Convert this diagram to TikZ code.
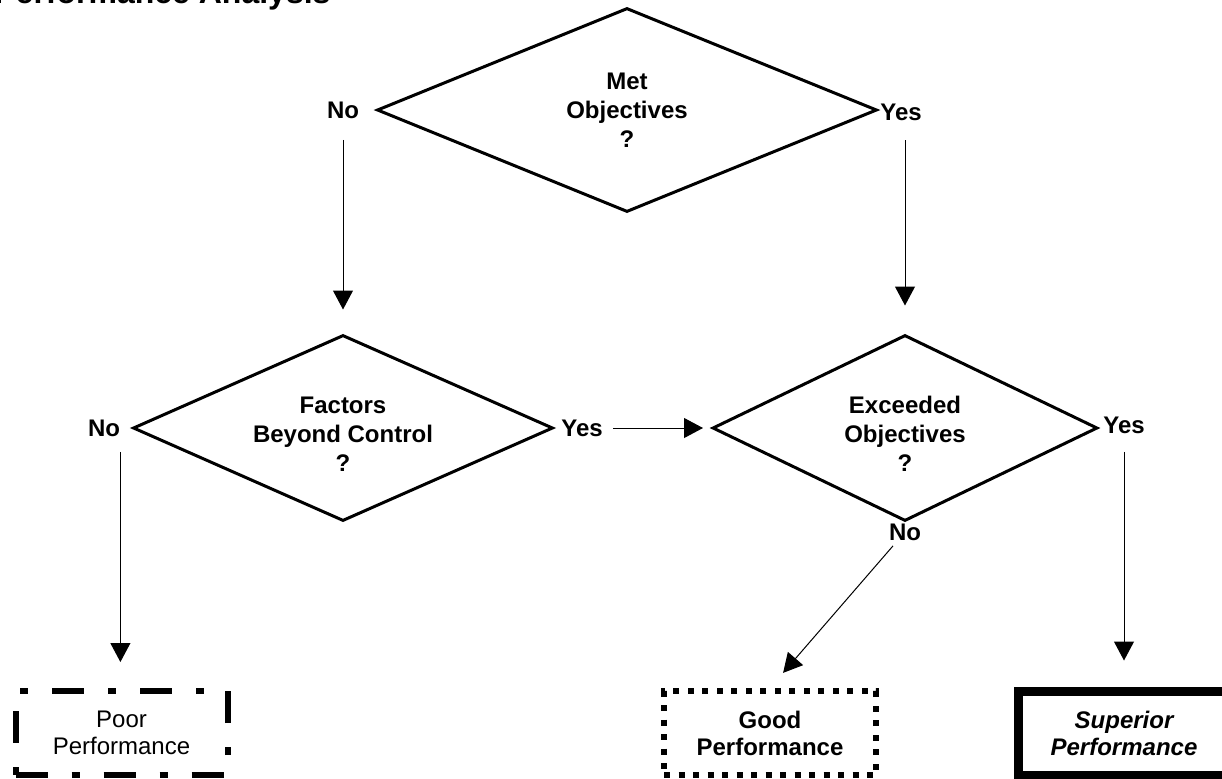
\documentclass[tikz,border=0pt]{standalone}
\usepackage{fontspec}
\setmainfont{Liberation Sans}
\usepackage{tikz}
\usetikzlibrary{shapes.geometric}
\usetikzlibrary{arrows.meta}
\newcommand{\flowfont}{\fontsize{12pt}{13.5pt}\selectfont}
\newcommand{\askfont}{\fontsize{12pt}{14.3pt}\selectfont}
% question text, lowered by #1 inside its diamond
\newcommand{\asktext}[2]{\raisebox{#1}[0pt][0pt]{\begin{tabular}{@{}c@{}}#2\end{tabular}}}
\tikzset{
  decision/.style={diamond, draw, line width=1.5pt, inner sep=0pt,
    font=\askfont\bfseries},
  answer/.style={inner sep=0pt, font=\flowfont\bfseries},
  outcome/.style={rectangle, draw, inner sep=0pt, align=center,
    minimum width=106pt, minimum height=42pt, font=\flowfont},
  flow/.style={-{Triangle[length=9.5pt,width=10pt]}, line width=0.5pt,
    shorten <=9pt, shorten >=13pt}
}

\begin{document}
\begin{tikzpicture}[x=0.5pt, y=-0.5pt]

% Page frame
\useasboundingbox (0,0) rectangle (1222,778);
\clip (0,0) rectangle (1222,778);

% Title, cut at the top
\node[anchor=base west, inner sep=0pt, font=\fontsize{16pt}{19pt}\selectfont\bfseries]
  (title) at (-6,3) {Performance Analysis};

% Decisions
\node[decision, minimum width=250pt, minimum height=102pt]
  (met) at (627,110) {\asktext{-4.4pt}{Met\\Objectives\\?}};
\node[decision, minimum width=210pt, minimum height=93pt]
  (fbc) at (343,428) {\asktext{-7.4pt}{Factors\\Beyond Control\\?}};
\node[decision, minimum width=192.5pt, minimum height=93pt]
  (exc) at (905,428) {\asktext{-7.4pt}{Exceeded\\Objectives\\?}};

% Answers
\node[answer] (no1) at (343,110) {No};
\node[answer] (yes1) at (901,112) {Yes};
\node[answer] (no2) at (104,428) {No};
\node[answer] (yes2) at (582,428) {Yes};
\node[answer] (yes3) at (1124,425) {Yes};
\node[answer] (no3) at (905,532) {No};

% Outcomes
\node[outcome, line width=3pt, dash pattern=on 16pt off 12pt on 4pt off 12pt]
  (poor) at (121.5,733) {Poor\\Performance};
\node[outcome, line width=3pt, dash pattern=on 3pt off 4.25pt, font=\flowfont\bfseries]
  (good) at (770,733) {Good\\Performance};
\node[outcome, line width=4.5pt, font=\flowfont\bfseries\itshape]
  (sup) at (1124,733) {Superior\\Performance};

% Arrows
\draw[flow, shorten <=10.5pt, shorten >=12pt] (no1) -- (no1 |- fbc.north);
\draw[flow, shorten <=14pt, shorten >=14pt] (yes1 -| exc) -- (exc.north);
\draw[flow, shorten <=5pt, shorten >=4pt] (yes2) -- (exc);
\draw[flow, shorten <=7.5pt] (no2.south east) -- (no2.south east |- poor.north);
\draw[flow] (yes3) -- (yes3 |- sup.north);
\draw[flow, shorten <=3.4pt, shorten >=10pt] (no3) -- (good.north);
\end{tikzpicture}
\end{document}
